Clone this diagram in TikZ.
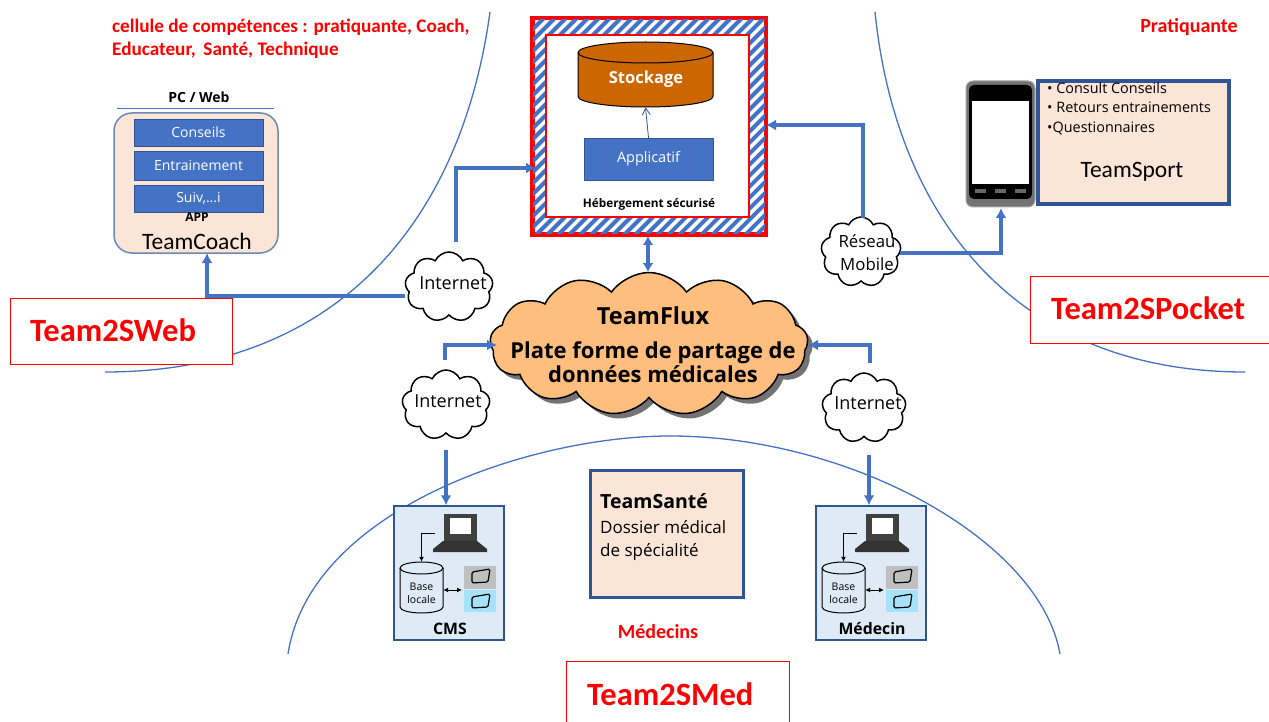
\documentclass[tikz,border=0pt]{standalone}
\usepackage{fontspec}
\setmainfont{Carlito}
\newfontfamily\tahomaish{Open Sans}
\usetikzlibrary{shapes.symbols,shadows,arrows.meta}
\definecolor{bleu}{HTML}{4472C4}
\definecolor{bleufonce}{HTML}{2F5597}
\definecolor{peau}{HTML}{FBE5D6}
\definecolor{orangefl}{HTML}{FFBE7D}
\definecolor{brun}{HTML}{CC6600}
\definecolor{glace}{HTML}{DEEAF6}
\tikzset{
  lien/.style = {draw=bleu, line width=3.2pt, -{Latex[length=10pt,width=11pt]}},
  zone/.style = {draw=bleu, line width=1.3pt},
  cadre/.style = {draw=red, fill=white, line width=1pt, inner sep=0pt},
  titre/.style = {text=red, font=\bfseries\fontsize{32.5}{36}\selectfont},
  rouge/.style = {text=red, font=\bfseries\fontsize{19.2}{23}\selectfont, align=left},
  barre/.style = {fill=bleu, draw=bleufonce, inner sep=0pt, minimum width=129pt, text=white, font=\tahomaish\fontsize{14}{16}\selectfont},
  nuage/.style = {cloud, cloud puffs=9, cloud puff arc=130, draw=black, line width=1.5pt, fill=white, inner sep=0pt, aspect=1.2, cloud ignores aspect},
  texte/.style = {font=\tahomaish\fontsize{18}{24}\selectfont, align=center, inner sep=0pt},
}
% cx, haut, bas, rx, ry, remplissage
\newcommand{\cuve}[6]{
   \draw[black, line width=1pt, fill=#6] ({#1-#4},{#2+#5}) -- ({#1-#4},{#3-#5}) arc[start angle=180, end angle=0, x radius=#4, y radius=#5] -- ({#1+#4},{#2+#5}) arc[start angle=0, end angle=-180, x radius=#4, y radius=#5];
   \draw[black, line width=1pt] ({#1-#4},{#2+#5}) arc[start angle=180, end angle=0, x radius=#4, y radius=#5];
}
\begin{document}
\begin{tikzpicture}[x=1pt,y=-1pt]
\useasboundingbox (0,0) rectangle (1269,722);

% les zones
\draw[zone] (490,12) .. controls (460,230) and (330,372) .. (105,372);
\draw[zone] (875,12) .. controls (895,210) and (1010,372) .. (1245,372);
\draw[zone] (288,654) .. controls (310,510) and (530,436) .. (670,436) .. controls (850,436) and (1040,540) .. (1060,654);

\node[rouge, anchor=north west, inner sep=0pt] (cellule) at (112,19) {cellule de compétences : pratiquante, Coach,\\Educateur,\, Santé, Technique};
\node[rouge, inner sep=0pt, font=\bfseries\fontsize{20}{23}\selectfont] (pratiquante) at (1189,27) {Pratiquante};
\node[rouge, inner sep=0pt, font=\bfseries\fontsize{20}{23}\selectfont] (medecins) at (658,632) {Médecins};

% TeamCoach
\node[font=\tahomaish\bfseries\fontsize{14}{16}\selectfont, inner sep=0pt] (pcweb) at (199,97) {PC / Web};
\draw[draw=bleu] (117,108) -- (274,108);
\node[draw=bleufonce!70, line width=1.5pt, fill=peau, rounded corners=18pt, minimum width=164pt, minimum height=140pt, inner sep=0pt] (coach) at (196,183) {};
\node[barre, minimum height=27pt] (conseils) at (198.5,132.5) {Conseils};
\node[barre, minimum height=29pt] (entrainement) at (198.5,165.5) {Entrainement};
\node[barre, minimum height=27pt] (suivi) at (198.5,198.5) {Suiv,...i};
\node[font=\tahomaish\bfseries\fontsize{12}{13}\selectfont, inner sep=0pt] (app) at (197,217) {APP};
\node[font=\fontsize{23.5}{25}\selectfont, inner sep=0pt] (teamcoach) at (197,241) {TeamCoach};

% hebergement
\node[draw=red, fill=white, line width=3pt, minimum width=232pt, minimum height=215pt, inner sep=0pt] (heberg) at (649,126.5) {};
\begin{scope}
\clip (533,19) rectangle (765,234);
\foreach \x in {-220,-209,...,250}
   \draw[bleu, line width=3.9pt] (\x+520,240) -- (\x+760,0);
\end{scope}
\draw[red, line width=3.5pt] (heberg.north west) rectangle (heberg.south east);
\node[draw=red, fill=white, line width=1.5pt, minimum width=203pt, minimum height=182pt, inner sep=0pt] (interieur) at (647.5,126) {};
\cuve{645.5}{42}{107}{67.5}{10.5}{brun}
\node[minimum width=135pt, minimum height=65pt, inner sep=0pt] (stockage) at (645.5,74.5) {};
\node[text=white, font=\tahomaish\bfseries\fontsize{16.5}{18}\selectfont, inner sep=0pt] (stocklabel) at (646,79) {Stockage};
\node[fill=bleu, draw=bleufonce, minimum width=129pt, minimum height=42pt, inner sep=0pt, text=white, font=\tahomaish\fontsize{14.5}{16}\selectfont] (applicatif) at (648.5,159) {Applicatif};
\node[font=\tahomaish\bfseries\fontsize{11.8}{13}\selectfont, inner sep=0pt] (hebtexte) at (649,204) {Hébergement sécurisé};
\draw[bleufonce, line width=0.8pt, -{Straight Barb[length=7pt,width=8pt]}] (applicatif.north) -- (stockage.south);

% TeamSport
\node[draw=bleufonce, line width=3.2pt, fill=peau, minimum width=191pt, minimum height=123pt, inner sep=0pt] (sport) at (1133.5,142.5) {};
\node[font=\tahomaish\fontsize{14.4}{19.7}\selectfont, align=left, anchor=north west, inner sep=0pt] (sportliste) at (1047,82) {\textbullet\ Consult Conseils\\\textbullet\ Retours entrainements\\\textbullet Questionnaires};
\node[font=\fontsize{23.5}{25}\selectfont, inner sep=0pt] (teamsport) at (1132,172) {TeamSport};
\node[fill=black!55, draw=black!35, line width=1pt, rounded corners=7pt, minimum width=69pt, minimum height=126pt, inner sep=0pt] (phone) at (1000.5,144) {};
\node[fill=black, rounded corners=5pt, minimum width=63pt, minimum height=114pt, inner sep=0pt] (phonenoir) at (1000.5,142) {};
\node[fill=white, minimum width=57pt, minimum height=83pt, inner sep=0pt] (ecran) at (1000.5,142.5) {};
\foreach \x in {980,1000,1020}
   \node[fill=black!60, minimum width=11pt, minimum height=4pt, inner sep=0pt] (bouton\x) at (\x,191) {};

% TeamFlux
\node[nuage, cloud puffs=13, cloud puff arc=110, fill=orangefl, minimum width=318pt, minimum height=143pt, drop shadow={shadow xshift=5pt, shadow yshift=-5pt, fill=black!55, opacity=1}] (flux) at (649,344) {};
\node[font=\tahomaish\bfseries\fontsize{23.5}{26}\selectfont, inner sep=0pt] (fluxtitre) at (653,316) {TeamFlux};
\node[font=\tahomaish\bfseries\fontsize{22}{24}\selectfont, align=center, inner sep=0pt] (fluxtexte) at (653,362) {Plate forme de partage de\\données médicales};

% les nuages
\node[nuage, minimum width=88pt, minimum height=70pt] (nethaut) at (449,287) {};
\node[texte] at (453,283) {Internet};
\node[nuage, minimum width=88pt, minimum height=70pt] (netgauche) at (446,405) {};
\node[texte] at (448,401) {Internet};
\node[nuage, minimum width=84pt, minimum height=70pt] (netdroite) at (864,408) {};
\node[texte] at (868,403) {Internet};
\node[nuage, minimum width=80pt, minimum height=70pt] (reseau) at (861,252) {};
\node[texte, font=\tahomaish\fontsize{16.8}{23}\selectfont] at (867,253) {Réseau\\Mobile};

% TeamSante
\node[draw=bleufonce, fill=peau, line width=3pt, minimum width=153pt, minimum height=127pt, inner sep=0pt] (sante) at (666.5,533.5) {};
\node[font=\tahomaish\bfseries\fontsize{19.5}{22}\selectfont, anchor=west, inner sep=0pt] (santetitre) at (600,501) {TeamSanté};
\node[font=\tahomaish\fontsize{17}{23}\selectfont, align=left, anchor=north west, inner sep=0pt] (santetexte) at (600,520) {Dossier médical\\de spécialité};

% les postes
\foreach \n/\d/\t in {cms/0/CMS, med/422/Médecin}{
\begin{scope}[shift={(\d,0)}]
   \node[draw=bleufonce, fill=glace, line width=1.5pt, minimum width=110pt, minimum height=134pt, inner sep=0pt] (\n) at (449,573) {};
   \node[font=\tahomaish\bfseries\fontsize{15.8}{17}\selectfont, inner sep=0pt] (\n texte) at (450,629) {\t};
   \node[fill=black!75, minimum width=33pt, minimum height=27pt, inner sep=0pt] (\n ecran) at (460,527) {};
   \node[fill=white, minimum width=21pt, minimum height=16pt, inner sep=0pt] at (460,526) {};
   \fill[black!80] (443,541) -- (477,541) -- (487,549) -- (487,552) -- (433,552) -- (433,549) -- cycle;
   \cuve{421.5}{562}{613}{21.5}{6}{glace}
   \node[minimum width=43pt, minimum height=51pt, inner sep=0pt] (\n base) at (421.5,587.5) {};
   \node[font=\tahomaish\fontsize{10.5}{13}\selectfont, align=center, inner sep=0pt] (\n baselabel) at (421.5,593) {Base\\locale};
   \node[fill=black!25, minimum width=32pt, minimum height=23pt, inner sep=0pt] (\n gris) at (480,577) {};
   \node[fill=cyan!35, minimum width=32pt, minimum height=22pt, inner sep=0pt] (\n clair) at (480,601) {};
   \draw[line width=1.2pt, rounded corners=1.5pt] (472,572) -- (490,569) -- (488,582) -- (472,583) -- cycle;
   \draw[line width=1.2pt, rounded corners=1.5pt] (472,597) -- (490,594) -- (488,607) -- (472,608) -- cycle;
   \coordinate (\n coin) at (435,533);
   \draw[line width=1pt, -{Latex[length=5pt,width=5pt]}] (\n coin) -| (\n base.north);
   \coordinate (\n fleche) at (462,590);
   \draw[line width=1pt, {Latex[length=5pt,width=5pt]}-{Latex[length=5pt,width=5pt]}] (\n base.east |- \n fleche) -- (\n fleche);
\end{scope}
}

% les liens
\coordinate (a1) at (456,242);
\coordinate (a2) at (536,168);
\draw[lien] (a1) |- (a2);
\coordinate (a3) at (405,296);
\coordinate (a4) at (207,253);
\draw[lien] (a3) -| (a4);
\coordinate (a5) at (445,360);
\coordinate (a6) at (497,345);
\draw[lien] (a5) |- (a6);
\coordinate (a7) at (870,363);
\coordinate (a8) at (808,345);
\draw[lien] (a7) |- (a8);
\coordinate (a9) at (446,450);
\draw[lien] (a9) -- (a9 |- cms.north);
\coordinate (a10) at (869,455);
\draw[lien] (a10) -- (a10 |- med.north);
\coordinate (a11) at (863,218);
\coordinate (a12) at (766,125);
\draw[lien] (a11) |- (a12);
\coordinate (a13) at (900,253);
\coordinate (a14) at (1001,208);
\draw[lien] (a13) -| (a14);
\coordinate (a15) at (648,236);
\coordinate (a16) at (648,272);
\draw[lien, {Latex[length=9pt,width=11pt]}-{Latex[length=9pt,width=11pt]}] (a15) -- (a16);

% les titres
\node[cadre, minimum width=222pt, minimum height=66pt] (web) at (121,331) {};
\node[titre, anchor=west, inner sep=0pt] (webtexte) at (30,330) {Team2SWeb};
\node[fill=white, minimum width=238pt, minimum height=66pt, inner sep=0pt] (pocket) at (1150,310) {};
\draw[red, line width=1pt] (pocket.north east) -- (pocket.north west) -- (pocket.south west) -- (pocket.south east);
\node[titre, anchor=west, inner sep=0pt] (pockettexte) at (1051,308) {Team2SPocket};
\node[fill=white, minimum width=222pt, minimum height=60pt, inner sep=0pt] (medbox) at (678,692) {};
\draw[red, line width=1pt] (medbox.south west) -- (medbox.north west) -- (medbox.north east) -- (medbox.south east);
\node[titre, anchor=west, inner sep=0pt] (medboxtexte) at (587,694) {Team2SMed};
\end{tikzpicture}
\end{document}
